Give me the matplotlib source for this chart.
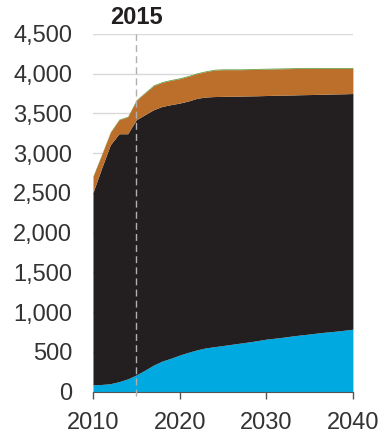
import matplotlib
matplotlib.use('Agg')
from matplotlib import pyplot as plt
import numpy as np

plt.rcParams['font.family'] = ['Liberation Sans', 'DejaVu Sans']

years = list(range(2010, 2041))
# cumulative tops of each stacked layer
blue_top = [85, 90, 100, 125, 160, 210, 270, 335, 385, 420, 460, 495, 525, 550, 565, 580,
            595, 610, 625, 642, 660, 672, 685, 700, 713, 725, 738, 750, 760, 772, 785]
black_top = [2505, 2812, 3105, 3244, 3244, 3420, 3484, 3547, 3588, 3610, 3630, 3656, 3690,
             3706, 3712, 3714, 3716, 3718, 3720, 3722, 3725, 3728, 3730, 3732, 3735, 3737,
             3740, 3742, 3745, 3747, 3750]
orange_top = [2707, 2980, 3261, 3420, 3455, 3664, 3757, 3849, 3891, 3916, 3937, 3966, 4000,
              4025, 4045, 4050, 4050, 4050, 4052, 4055, 4058, 4060, 4062, 4064, 4066, 4066,
              4067, 4067, 4067, 4067, 4067]
green = [8, 8, 8, 8, 8, 8, 10, 10, 10, 10, 10, 10, 10, 10, 10, 10,
         10, 10, 10, 10, 10, 10, 10, 10, 10, 10, 10, 10, 10, 10, 10]
yticks = [0, 500, 1000, 1500, 2000, 2500, 3000, 3500, 4000, 4500]
xticks = [2010, 2020, 2030, 2040]
marker_year = 2015

text_col = '#231f20'
fig = plt.figure(figsize=(3.8, 4.32), dpi=100)
ax = fig.add_axes([0.2447, 0.0935, 0.684, 0.828])

x = np.array(years)
b = np.array(blue_top)
k = np.array(black_top)
o = np.array(orange_top)
g = o + np.array(green)

ax.fill_between(x, 0, b, color='#00a9e0', lw=0, zorder=2)
ax.fill_between(x, b, k, color='#231f20', lw=0, zorder=2)
ax.fill_between(x, k, o, color='#bb6f2b', lw=0, zorder=2)
ax.fill_between(x, o, g, color='#5e9e45', lw=0, zorder=2)

ax.axvline(marker_year, ymin=-0.012, ymax=1, color='#b0b0b0', lw=1, ls=(0, (5, 3)),
           zorder=3, clip_on=False)
ax.text(marker_year, 4708, str(marker_year), ha='center', va='center',
        fontsize=17, fontweight='bold', color=text_col)

ax.set_xlim(2010, 2040)
ax.set_ylim(0, 4500)
ax.set_yticks(yticks)
ax.set_yticklabels([f'{v:,}' for v in yticks])
ax.set_xticks(xticks)
ax.grid(axis='y', color='#d9d9d9', lw=1, zorder=0)
ax.set_axisbelow(True)
for s in ['top', 'right', 'left']:
    ax.spines[s].set_visible(False)
ax.spines['bottom'].set_color('#555555')
ax.tick_params(axis='y', length=0, pad=15, labelsize=17, labelcolor='#333333')
ax.tick_params(axis='x', length=5, width=1, color='#555555', pad=10, labelsize=17,
               labelcolor='#333333')

fig.savefig('out.png', dpi=100)
